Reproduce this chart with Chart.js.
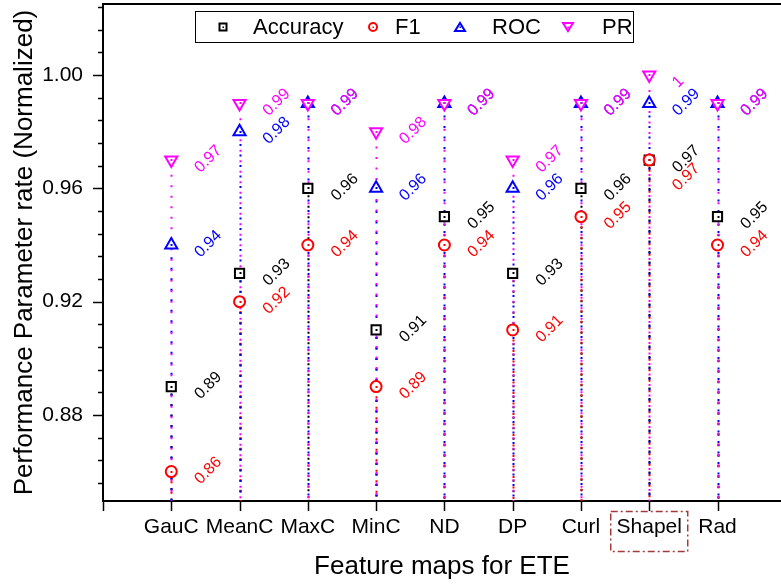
<!DOCTYPE html>
<html>
<head>
<meta charset="utf-8">
<script src="https://cdn.jsdelivr.net/npm/chart.js@4.4.0/dist/chart.umd.min.js"></script>
<style>
  html, body { margin: 0; padding: 0; background: #fff; overflow: hidden; }
</style>
</head>
<body>
<canvas id="chart" width="781" height="587"></canvas>
<script>
const categories = ["GauC", "MeanC", "MaxC", "MinC", "ND", "DP", "Curl", "Shapel", "Rad"];
const accuracy = [0.89, 0.93, 0.96, 0.91, 0.95, 0.93, 0.96, 0.97, 0.95];
const f1 = [0.86, 0.92, 0.94, 0.89, 0.94, 0.91, 0.95, 0.97, 0.94];
const roc = [0.94, 0.98, 0.99, 0.96, 0.99, 0.96, 0.99, 0.99, 0.99];
const pr = [0.97, 0.99, 0.99, 0.98, 0.99, 0.97, 0.99, 1.00, 0.99];
const yTicks = [0.88, 0.92, 0.96, 1.00];
const highlighted = "Shapel";

const FONT = "'Liberation Sans', Arial, sans-serif";

const toPoints = arr => arr.map((v, i) => ({ x: i + 1, y: v }));

function makeSet(label, data, color, style, radius, rotation, order) {
  return {
    label, data: toPoints(data), showLine: false,
    pointStyle: style, pointRadius: radius, pointHoverRadius: radius,
    pointRotation: rotation, pointBorderWidth: 2,
    borderColor: color, backgroundColor: "#ffffff",
    pointBackgroundColor: "#ffffff", order
  };
}

// dotted drop lines from every marker down to the x axis
const dropLines = {
  id: "dropLines",
  beforeDatasetsDraw(chart) {
    const { ctx, scales: { x, y }, chartArea } = chart;
    ctx.save();
    chart.data.datasets.forEach((ds, i) => {
      ctx.strokeStyle = ds.borderColor;
      ctx.lineWidth = 2;
      ctx.setLineDash([2, 8.5]);
      ctx.lineDashOffset = -i * 2.6;
      ds.data.forEach(p => {
        const px = Math.round(x.getPixelForValue(p.x)) + 0.5;
        ctx.beginPath();
        ctx.moveTo(px, y.getPixelForValue(p.y) + 7);
        ctx.lineTo(px, chartArea.bottom);
        ctx.stroke();
      });
    });
    ctx.restore();
  }
};

// rotated value labels + little centre dots in the markers
const valueLabels = {
  id: "valueLabels",
  afterDatasetsDraw(chart) {
    const { ctx, scales: { x, y } } = chart;
    ctx.save();
    ctx.font = "16px " + FONT;
    ctx.textAlign = "left";
    ctx.textBaseline = "middle";
    chart.data.datasets.forEach(ds => {
      ds.data.forEach((p, j) => {
        const px = x.getPixelForValue(p.x);
        const py = y.getPixelForValue(p.y);
        ctx.fillStyle = ds.borderColor;
        ctx.fillRect(Math.round(px) - 0.5, Math.round(py) - 1, 2, 2);
        let dy = 10;
        if (ds.label === "F1" && p.y === accuracy[j]) dy += 18;
        ctx.save();
        ctx.translate(px + 26, py + dy);
        ctx.rotate(-Math.PI / 4);
        ctx.fillText(String(p.y), 0, 0);
        ctx.restore();
      });
    });
    ctx.restore();
  }
};

// axis ticks, top frame line, highlight box and legend
const frame = {
  id: "frame",
  afterDraw(chart) {
    const { ctx, scales: { x, y }, chartArea: a } = chart;
    ctx.save();
    ctx.strokeStyle = "#000";
    ctx.lineWidth = 2;
    ctx.beginPath();
    ctx.moveTo(a.left - 1, a.top);
    ctx.lineTo(a.right, a.top);
    ctx.stroke();

    // y ticks: major every 0.04, minor every 0.008
    ctx.lineWidth = 1.5;
    for (let k = 0; k <= 30; k++) {
      const v = 0.856 + k * 0.008;
      if (v > y.max) break;
      const py = Math.round(y.getPixelForValue(v)) + 0.5;
      const major = yTicks.some(t => Math.abs(t - v) < 1e-6);
      ctx.beginPath();
      ctx.moveTo(a.left, py);
      ctx.lineTo(a.left - (major ? 10 : 5), py);
      ctx.stroke();
    }
    // x ticks
    for (let i = 0; i <= categories.length; i++) {
      const px = Math.round(x.getPixelForValue(i)) + 0.5;
      ctx.beginPath();
      ctx.moveTo(px, a.bottom);
      ctx.lineTo(px, a.bottom + 10);
      ctx.stroke();
    }

    // dash-dot box around the highlighted category label
    const hx = x.getPixelForValue(categories.indexOf(highlighted) + 1);
    ctx.strokeStyle = "#a33a3a";
    ctx.lineWidth = 1.5;
    ctx.setLineDash([7, 3, 2, 3]);
    ctx.strokeRect(hx - 38.5, a.bottom + 10.5, 77, 40);
    ctx.setLineDash([]);

    // legend
    ctx.strokeStyle = "#000";
    ctx.lineWidth = 1;
    ctx.strokeRect(195.5, 11.5, 438, 31);
    const xs = [[223, 253], [373, 395], [460, 492], [568, 602]];
    ctx.font = "22px " + FONT;
    ctx.textBaseline = "middle";
    ctx.textAlign = "left";
    chart.data.datasets.forEach((ds, i) => {
      const [mx, tx] = xs[i];
      const my = 27;
      ctx.strokeStyle = ds.borderColor;
      ctx.lineWidth = 2;
      ctx.beginPath();
      if (ds.pointStyle === "rect") {
        ctx.rect(mx - 3.5, my - 3.5, 7, 7);
      } else if (ds.pointStyle === "circle") {
        ctx.arc(mx, my, 4, 0, Math.PI * 2);
      } else if (ds.pointRotation === 180) {
        ctx.moveTo(mx - 5, my - 4); ctx.lineTo(mx + 5, my - 4); ctx.lineTo(mx, my + 4); ctx.closePath();
      } else {
        ctx.moveTo(mx - 5, my + 4); ctx.lineTo(mx + 5, my + 4); ctx.lineTo(mx, my - 4); ctx.closePath();
      }
      ctx.stroke();
      ctx.fillStyle = ds.borderColor;
      ctx.fillRect(mx - 0.5, my - 0.5, 1.5, 1.5);
      ctx.fillStyle = "#000";
      ctx.fillText(ds.label, tx, my + 1);
    });
    ctx.restore();
  }
};

new Chart(document.getElementById("chart"), {
  type: "scatter",
  data: {
    datasets: [
      makeSet("Accuracy", accuracy, "#000000", "rect", 6.5, 0, 3),
      makeSet("F1", f1, "#ff0000", "circle", 5.5, 0, 2),
      makeSet("ROC", roc, "#0000ff", "triangle", 7, 0, 1),
      makeSet("PR", pr, "#ff00ff", "triangle", 7, 180, 0)
    ]
  },
  options: {
    responsive: false,
    animation: false,
    devicePixelRatio: 1,
    layout: { autoPadding: false, padding: { top: 4, right: 0, left: 0, bottom: 0 } },
    plugins: { legend: { display: false }, tooltip: { enabled: false } },
    scales: {
      x: {
        type: "linear", min: 0, max: 9.93,
        afterBuildTicks: s => { s.ticks = categories.map((c, i) => ({ value: i + 1 })); },
        afterFit: s => { s.height = 86; s.paddingLeft = 0; s.paddingRight = 0; },
        grid: { display: false, drawTicks: false },
        border: { display: true, color: "#000", width: 2 },
        ticks: {
          callback: v => categories[v - 1] || "",
          font: { size: 21, family: FONT }, color: "#000",
          padding: 14, maxRotation: 0, autoSkip: false
        },
        title: {
          display: true, text: "Feature maps for ETE", color: "#000",
          font: { size: 26, family: FONT }, padding: { top: 0, bottom: 5 }
        }
      },
      y: {
        min: 0.8496, max: 1.0251,
        afterBuildTicks: s => { s.ticks = yTicks.map(v => ({ value: v })); },
        afterFit: s => { s.width = 103; s.paddingTop = 0; s.paddingBottom = 0; },
        grid: { display: false, drawTicks: false },
        border: { display: true, color: "#000", width: 2 },
        ticks: {
          callback: v => v.toFixed(2),
          font: { size: 21, family: FONT }, color: "#000", padding: 20
        },
        title: {
          display: true, text: "Performance Parameter rate (Normalized)", color: "#000",
          font: { size: 26, family: FONT }, padding: { top: 9, bottom: 0 }
        }
      }
    }
  },
  plugins: [dropLines, valueLabels, frame]
});
</script>
</body>
</html>
